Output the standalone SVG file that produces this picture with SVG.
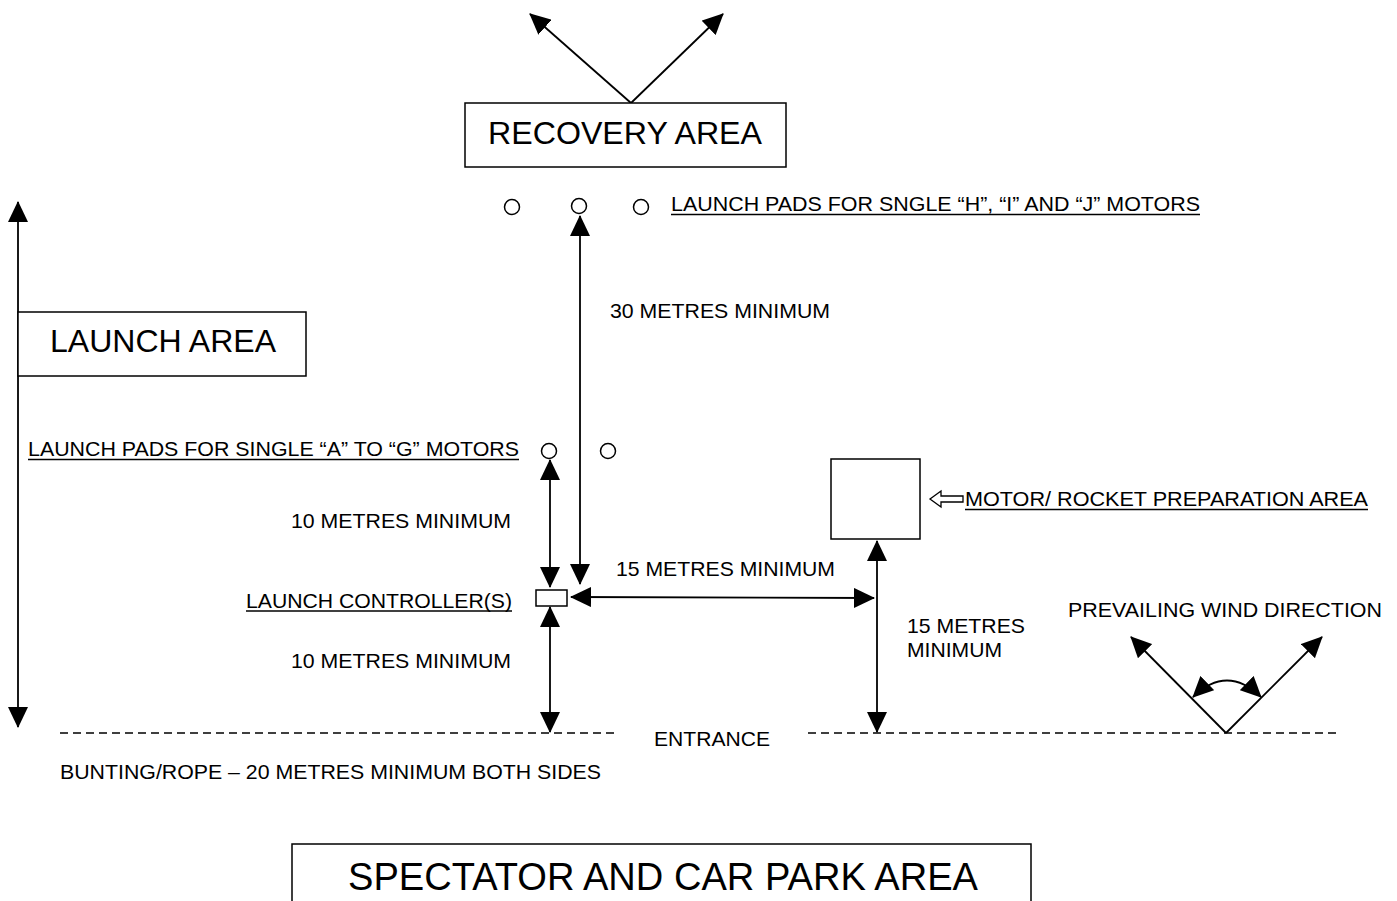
<svg xmlns="http://www.w3.org/2000/svg" width="1397" height="901" viewBox="0 0 1397 901">
<style>
.t{font-family:"Liberation Sans",Arial,sans-serif;fill:#000}
.s{font-size:21px}
.b{font-size:31px}
.ln{stroke:#000;stroke-width:1.8;fill:none}
.box{stroke:#000;stroke-width:1.5;fill:#fff}
.u{stroke:#000;stroke-width:1.4}
.dash{stroke:#000;stroke-width:1.6;stroke-dasharray:8,5}
.pad{stroke:#000;stroke-width:1.5;fill:#fff}
</style>
<defs>
<marker id="ah" markerUnits="userSpaceOnUse" markerWidth="22" markerHeight="20" refX="20" refY="10" orient="auto-start-reverse">
<path d="M0,0 L21,10 L0,20 z" fill="#000"/>
</marker>
</defs>
<rect width="1397" height="901" fill="#fff"/>

<g id="connectors">
<line class="ln" x1="631" y1="103" x2="530" y2="14" marker-end="url(#ah)"/>
<line class="ln" x1="631" y1="103" x2="723" y2="14" marker-end="url(#ah)"/>
<line class="ln" x1="18" y1="202" x2="18" y2="727" marker-start="url(#ah)" marker-end="url(#ah)"/>
<line class="ln" x1="580" y1="216" x2="580" y2="584" marker-start="url(#ah)" marker-end="url(#ah)"/>
<line class="ln" x1="550" y1="460" x2="550" y2="587" marker-start="url(#ah)" marker-end="url(#ah)"/>
<line class="ln" x1="550" y1="607" x2="550" y2="732" marker-start="url(#ah)" marker-end="url(#ah)"/>
<line class="ln" x1="571" y1="597" x2="874" y2="598" marker-start="url(#ah)" marker-end="url(#ah)"/>
<line class="ln" x1="877" y1="541" x2="877" y2="732" marker-start="url(#ah)" marker-end="url(#ah)"/>
<line class="ln" x1="1226" y1="733" x2="1131" y2="637" marker-end="url(#ah)"/>
<line class="ln" x1="1226" y1="733" x2="1322" y2="637" marker-end="url(#ah)"/>
<path class="ln" d="M1193,697 Q1227,664 1261,697" marker-start="url(#ah)" marker-end="url(#ah)"/>
<polygon points="930,499 941,491 941,496 963,496 963,502 941,502 941,507" fill="#fff" stroke="#000" stroke-width="1.3"/>
</g>

<g id="recovery-area">
<rect class="box" x="465" y="103" width="321" height="64"/>
<text class="t b" x="625" y="144" text-anchor="middle" textLength="274" lengthAdjust="spacingAndGlyphs">RECOVERY AREA</text>
</g>

<g id="hij-pads">
<circle class="pad" cx="512" cy="207" r="7.5"/>
<circle class="pad" cx="579" cy="206" r="7.5"/>
<circle class="pad" cx="641" cy="207" r="7.5"/>
<text class="t s" x="671" y="211" textLength="529" lengthAdjust="spacingAndGlyphs">LAUNCH PADS FOR SNGLE “H”, “I” AND “J” MOTORS</text>
<line class="u" x1="671" y1="214.5" x2="1200" y2="214.5"/>
</g>

<g id="launch-area">
<rect class="box" x="18" y="312" width="288" height="64"/>
<text class="t b" x="163" y="352" text-anchor="middle" textLength="226" lengthAdjust="spacingAndGlyphs">LAUNCH AREA</text>
</g>

<g id="label-30m">
<text class="t s" x="610" y="318" textLength="220" lengthAdjust="spacingAndGlyphs">30 METRES MINIMUM</text>
</g>

<g id="ag-pads">
<circle class="pad" cx="549" cy="451" r="7.5"/>
<circle class="pad" cx="608" cy="451" r="7.5"/>
<text class="t s" x="28" y="456" textLength="491" lengthAdjust="spacingAndGlyphs">LAUNCH PADS FOR SINGLE “A” TO “G” MOTORS</text>
<line class="u" x1="28" y1="459.5" x2="519" y2="459.5"/>
</g>

<g id="label-10m-a">
<text class="t s" x="291" y="528" textLength="220" lengthAdjust="spacingAndGlyphs">10 METRES MINIMUM</text>
</g>

<g id="launch-controller">
<rect class="box" x="536" y="590" width="31" height="16"/>
<text class="t s" x="246" y="608" textLength="266" lengthAdjust="spacingAndGlyphs">LAUNCH CONTROLLER(S)</text>
<line class="u" x1="246" y1="611" x2="512" y2="611"/>
</g>

<g id="label-10m-b">
<text class="t s" x="291" y="668" textLength="220" lengthAdjust="spacingAndGlyphs">10 METRES MINIMUM</text>
</g>

<g id="label-15m-h">
<text class="t s" x="616" y="576" textLength="219" lengthAdjust="spacingAndGlyphs">15 METRES MINIMUM</text>
</g>

<g id="prep-area">
<rect class="box" x="831" y="459" width="89" height="80"/>
<text class="t s" x="965" y="506" textLength="403" lengthAdjust="spacingAndGlyphs">MOTOR/ ROCKET PREPARATION AREA</text>
<line class="u" x1="965" y1="509.5" x2="1368" y2="509.5"/>
</g>

<g id="label-15m-v">
<text class="t s" x="907" y="633" textLength="118" lengthAdjust="spacingAndGlyphs">15 METRES</text>
<text class="t s" x="907" y="657" textLength="95" lengthAdjust="spacingAndGlyphs">MINIMUM</text>
</g>

<g id="wind">
<text class="t s" x="1068" y="617" textLength="314" lengthAdjust="spacingAndGlyphs">PREVAILING WIND DIRECTION</text>
</g>

<g id="bunting">
<line class="dash" x1="60" y1="733" x2="615" y2="733"/>
<line class="dash" x1="808" y1="733" x2="1337" y2="733"/>
<text class="t s" x="654" y="746" textLength="116" lengthAdjust="spacingAndGlyphs">ENTRANCE</text>
<text class="t s" x="60" y="779" textLength="541" lengthAdjust="spacingAndGlyphs">BUNTING/ROPE – 20 METRES MINIMUM BOTH SIDES</text>
</g>

<g id="spectator-area">
<rect class="box" x="292" y="844" width="739" height="70"/>
<text class="t" style="font-size:38px" x="663" y="890" text-anchor="middle" textLength="630" lengthAdjust="spacingAndGlyphs">SPECTATOR AND CAR PARK AREA</text>
</g>
</svg>
